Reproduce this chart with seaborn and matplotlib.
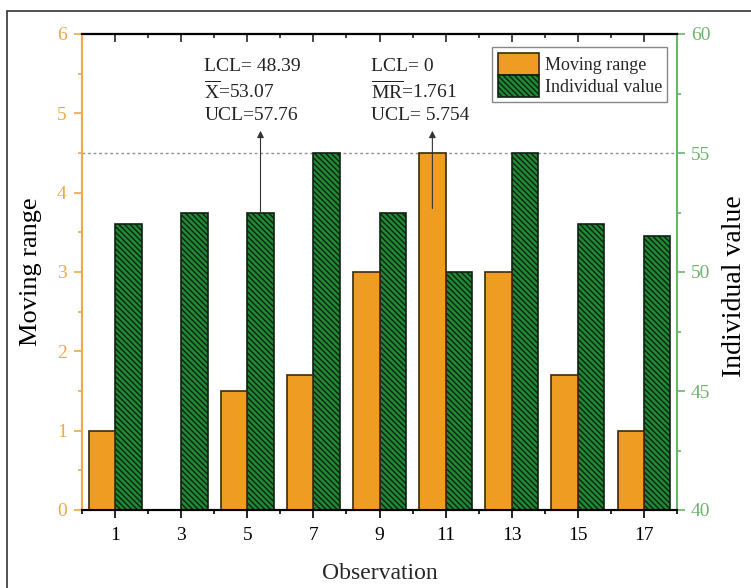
import numpy as np
import pandas as pd
import matplotlib
matplotlib.use("Agg")
import matplotlib.pyplot as plt
import seaborn as sns
from matplotlib.patches import Rectangle, Patch

# ---- data ----
observations = [1, 3, 5, 7, 9, 11, 13, 15, 17]
moving_range = [1.0, 0.0, 1.5, 1.7, 3.0, 4.5, 3.0, 1.7, 1.0]
individual_value = [52.0, 52.5, 52.5, 55.0, 52.5, 50.0, 55.0, 52.0, 51.5]
x_ticks = [1, 3, 5, 7, 9, 11, 13, 15, 17]
left_ticks = [0, 1, 2, 3, 4, 5, 6]
right_ticks = [40, 45, 50, 55, 60]
ucl_line_ind = 55
ann_ind = ["LCL= 48.39", r"$\overline{\mathrm{X}}$=53.07", "UCL=57.76"]
ann_mr = ["LCL= 0", r"$\overline{\mathrm{MR}}$=1.761", "UCL= 5.754"]

sns.set_theme(style="white")
plt.rcParams["font.family"] = ["Liberation Serif", "DejaVu Serif"]
plt.rcParams["mathtext.fontset"] = "custom"
plt.rcParams["mathtext.rm"] = "Liberation Serif"
plt.rcParams["mathtext.it"] = "Liberation Serif:italic"
plt.rcParams["hatch.color"] = "#0a200a"
plt.rcParams["hatch.linewidth"] = 1.0

ORANGE = "#EE9D22"
GREEN = "#1F8A35"
LORANGE = "#F0A848"
LGREEN = "#6DB46D"
HATCH = "\\\\\\\\\\\\"

fig = plt.figure(figsize=(7.51, 5.88), dpi=100)
ax = fig.add_axes([82/751, 1 - 510/588, (677-82)/751, (510-34)/588])
ax2 = ax.twinx()

df_mr = pd.DataFrame({"pos": np.array(observations) - 0.4, "val": moving_range})
df_iv = pd.DataFrame({"pos": np.array(observations) + 0.4, "val": individual_value})

sns.barplot(data=df_mr, x="pos", y="val", native_scale=True, width=0.4,
            color=ORANGE, saturation=1, edgecolor="#3a2a10", linewidth=1.2, ax=ax)
sns.barplot(data=df_iv, x="pos", y="val", native_scale=True, width=0.4,
            color=GREEN, saturation=1, edgecolor="#102010", linewidth=1.2, ax=ax2)
for p in ax2.patches:
    p.set_hatch(HATCH)

ax.set_xlim(0, 18)
ax2.set_xlim(0, 18)
ax.set_ylim(0, 6)
ax2.set_ylim(40, 60)
ax.set_zorder(1)
ax.patch.set_visible(False)

# dotted control line
ax2.axhline(ucl_line_ind, color="#909090", linestyle=(0, (2, 2)), linewidth=1.0, zorder=0)

# ticks
ax.set_xticks(x_ticks)
ax.set_xticks(np.arange(0, 19, 2), minor=True)
ax.set_xticklabels([str(t) for t in x_ticks])
ax.set_yticks(left_ticks)
ax.set_yticks(np.arange(0, 6.01, 0.5), minor=True)
ax2.set_yticks(right_ticks)
ax2.set_yticks(np.arange(40, 60.01, 2.5), minor=True)

ax.tick_params(axis="x", which="major", direction="out", length=6, width=1.2,
               colors="black", labelsize=14, bottom=True, pad=6)
ax.tick_params(axis="x", which="minor", direction="out", length=3, width=1.2,
               colors="black", bottom=True)
ax.tick_params(axis="y", which="major", direction="out", length=6, width=1.2,
               colors=LORANGE, labelsize=14, left=True, pad=5)
ax.tick_params(axis="y", which="minor", direction="out", length=3, width=1.2,
               colors=LORANGE, left=True)
ax2.tick_params(axis="y", which="major", direction="out", length=6, width=1.2,
                colors=LGREEN, labelsize=14, right=True, pad=4)
ax2.tick_params(axis="y", which="minor", direction="out", length=3, width=1.2,
                colors=LGREEN, right=True)
ax2.tick_params(axis="x", bottom=False, top=False, labelbottom=False)

sec = ax.secondary_xaxis("top")
sec.set_xticks(x_ticks)
sec.set_xticks(np.arange(0, 19, 2), minor=True)
sec.tick_params(which="major", direction="in", length=6, width=1.2, labeltop=False)
sec.tick_params(which="minor", direction="in", length=3, width=1.2)
sec.spines["top"].set_linewidth(1.5)

for a in (ax, ax2):
    a.spines["top"].set_color("black")
    a.spines["top"].set_linewidth(1.5)
    a.spines["bottom"].set_color("black")
    a.spines["bottom"].set_linewidth(1.5)
    a.spines["left"].set_color(LORANGE)
    a.spines["left"].set_linewidth(1.5)
    a.spines["right"].set_color(LGREEN)
    a.spines["right"].set_linewidth(1.5)

ax.set_xlabel("Observation", fontsize=17, labelpad=14)
ax.set_ylabel("Moving range", fontsize=19, labelpad=11, color="black")
ax2.set_ylabel("Individual value", fontsize=20, color="black", rotation=90)
ax2.yaxis.set_label_coords(1.075, 0.47)

# annotations
ax.annotate("", xy=(5.4, 4.78), xytext=(5.4, 3.75),
            arrowprops=dict(arrowstyle="-|>", color="#333333", lw=0.8,
                            mutation_scale=10, shrinkA=0, shrinkB=0))
ax.annotate("", xy=(10.6, 4.78), xytext=(10.6, 3.8),
            arrowprops=dict(arrowstyle="-|>", color="#333333", lw=0.8,
                            mutation_scale=10, shrinkA=0, shrinkB=0))
for i, line in enumerate(ann_ind):
    ax.text(3.7, 5.59 - i * 0.31, line, fontsize=14, ha="left", va="center",
            color="#222222")
for i, line in enumerate(ann_mr):
    ax.text(8.73, 5.59 - i * 0.31, line, fontsize=14, ha="left", va="center",
            color="#222222")

handles = [Patch(facecolor=ORANGE, edgecolor="#3a2a10", linewidth=1.2, label="Moving range"),
           Patch(facecolor=GREEN, edgecolor="#102010", linewidth=1.2, hatch=HATCH,
                 label="Individual value")]
leg = ax.legend(handles=handles, loc="upper right", bbox_to_anchor=(0.99, 0.98),
                fontsize=13, frameon=True, fancybox=False, framealpha=1,
                edgecolor="#888888", handlelength=2.3, handleheight=1.5,
                handletextpad=0.3, labelspacing=0.0, borderpad=0.3,
                borderaxespad=0.2)
leg.get_frame().set_linewidth(1.0)

# figure border
fig.patches.append(Rectangle((7/751, -0.05), 1.2, 1 - 11/588 + 0.05,
                             transform=fig.transFigure, fill=False,
                             edgecolor="#333333", linewidth=1.2, clip_on=False))

fig.savefig("out.png", dpi=100)
